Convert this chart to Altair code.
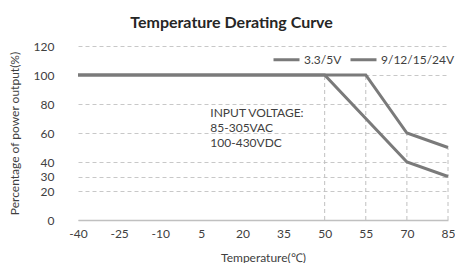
import altair as alt
import pandas as pd

temps = ["-40", "-25", "-10", "5", "20", "35", "50", "55", "70", "85"]
series_a_name = "3.3/5V"
series_a = [100, 100, 100, 100, 100, 100, 100, 70, 40, 30]
series_b_name = "9/12/15/24V"
series_b = [100, 100, 100, 100, 100, 100, 100, 100, 60, 50]
drop_temps = ["50", "55", "70", "85"]
y_ticks = [0, 20, 30, 40, 60, 80, 100, 120]
note_lines = ["INPUT VOLTAGE:", "85-305VAC", "100-430VDC"]

rows = []
for t, a, b in zip(temps, series_a, series_b):
    rows.append({"temp": t, "series": series_a_name, "value": a})
    rows.append({"temp": t, "series": series_b_name, "value": b})
df = pd.DataFrame(rows)

drop_df = pd.DataFrame({
    "temp": drop_temps,
    "top": [max(series_a[temps.index(t)], series_b[temps.index(t)]) for t in drop_temps],
    "zero": [0] * len(drop_temps),
})
note_df = pd.DataFrame({"temp": ["5"], "y": [74], "text": [note_lines]})

FONT = "Lato"
GRAY = "#7a7a7a"

xscale = alt.Scale(type="point", domain=temps, range=[16, 386], padding=0)
yscale = alt.Scale(domain=[0, 120], nice=False)

xaxis = alt.Axis(title="Temperature(℃)", labelAngle=0, ticks=False,
                 grid=False, domainColor="#c0c0c0", domainWidth=1.5,
                 labelPadding=8, titlePadding=13)
yaxis = alt.Axis(title="Percentage of power output(%)", values=y_ticks,
                 ticks=False, domain=False, gridDash=[4, 3],
                 gridColor="#c8c8c8", labelPadding=8, titlePadding=12,
                 labelOverlap=False)

drops = alt.Chart(drop_df).mark_rule(color="#c0c0c0", strokeDash=[4, 3], strokeWidth=1).encode(
    x=alt.X("temp:O", scale=xscale, sort=temps, axis=xaxis),
    y=alt.Y("zero:Q", scale=yscale, axis=yaxis),
    y2="top:Q",
)

lines = alt.Chart(df).mark_line(strokeWidth=3).encode(
    x=alt.X("temp:O", scale=xscale, sort=temps, axis=xaxis),
    y=alt.Y("value:Q", scale=yscale, axis=yaxis),
    color=alt.Color("series:N",
                    scale=alt.Scale(domain=[series_a_name, series_b_name], range=[GRAY, GRAY]),
                    legend=alt.Legend(title=None, orient="none", legendX=210, legendY=-1,
                                      direction="horizontal", symbolType="stroke",
                                      symbolStrokeWidth=3, symbolSize=676,
                                      labelOffset=3, columnPadding=2,
                                      labelFontSize=12, labelColor="#404040", labelFont=FONT)),
)

note = alt.Chart(note_df).mark_text(align="left", baseline="middle", dx=9, fontSize=12,
                                     lineHeight=15, color="#404040", font=FONT).encode(
    x=alt.X("temp:O", scale=xscale, sort=temps, axis=xaxis),
    y=alt.Y("y:Q", scale=yscale, axis=yaxis),
    text="text",
)

chart = alt.layer(drops, lines, note).properties(
    width=447, height=174,
    autosize=alt.AutoSizeParams(type="fit-x", contains="padding"),
    padding={"left": 0, "right": 0, "top": 7, "bottom": 0},
    title=alt.TitleParams("Temperature Derating Curve", fontSize=16, fontWeight="bold",
                          font=FONT, color="#262626", anchor="middle", frame="bounds",
                          offset=9),
).configure_axis(
    labelFont=FONT, titleFont=FONT, labelFontSize=12, titleFontSize=12,
    labelColor="#404040", titleColor="#404040", titleFontWeight="normal",
    labelOverlap=False,
).configure_view(stroke=None)

chart.save("out.html", embed_options={"renderer": "svg", "actions": False})
